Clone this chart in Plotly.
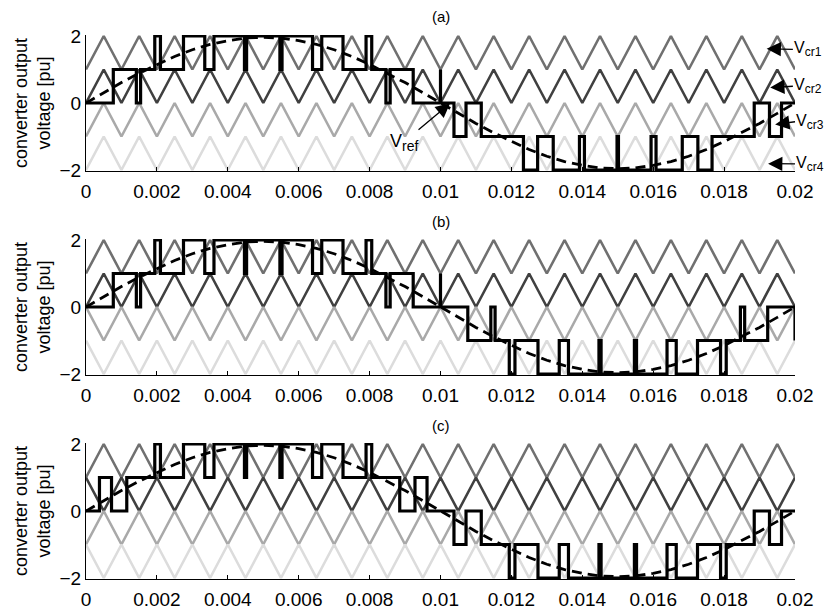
import plotly.graph_objects as go

# ---------------- data ----------------
# carrier vertex instants (s)
t_vertex = [0.0000, 0.0005, 0.0010, 0.0015, 0.0020, 0.0025, 0.0030, 0.0035, 0.0040, 0.0045,
            0.0050, 0.0055, 0.0060, 0.0065, 0.0070, 0.0075, 0.0080, 0.0085, 0.0090, 0.0095,
            0.0100, 0.0105, 0.0110, 0.0115, 0.0120, 0.0125, 0.0130, 0.0135, 0.0140, 0.0145,
            0.0150, 0.0155, 0.0160, 0.0165, 0.0170, 0.0175, 0.0180, 0.0185, 0.0190, 0.0195,
            0.0200]

# carrier vertex values
vcr1 = [1, 2, 1, 2, 1, 2, 1, 2, 1, 2, 1, 2, 1, 2, 1, 2, 1, 2, 1, 2, 1,
        2, 1, 2, 1, 2, 1, 2, 1, 2, 1, 2, 1, 2, 1, 2, 1, 2, 1, 2, 1]
vcr2_in = [0, 1, 0, 1, 0, 1, 0, 1, 0, 1, 0, 1, 0, 1, 0, 1, 0, 1, 0, 1, 0,
           1, 0, 1, 0, 1, 0, 1, 0, 1, 0, 1, 0, 1, 0, 1, 0, 1, 0, 1, 0]
vcr2_opp = [1, 0, 1, 0, 1, 0, 1, 0, 1, 0, 1, 0, 1, 0, 1, 0, 1, 0, 1, 0, 1,
            0, 1, 0, 1, 0, 1, 0, 1, 0, 1, 0, 1, 0, 1, 0, 1, 0, 1, 0, 1]
vcr3_in = [-1, 0, -1, 0, -1, 0, -1, 0, -1, 0, -1, 0, -1, 0, -1, 0, -1, 0, -1, 0, -1,
           0, -1, 0, -1, 0, -1, 0, -1, 0, -1, 0, -1, 0, -1, 0, -1, 0, -1, 0, -1]
vcr3_opp = [0, -1, 0, -1, 0, -1, 0, -1, 0, -1, 0, -1, 0, -1, 0, -1, 0, -1, 0, -1, 0,
            -1, 0, -1, 0, -1, 0, -1, 0, -1, 0, -1, 0, -1, 0, -1, 0, -1, 0, -1, 0]
vcr4_in = [-2, -1, -2, -1, -2, -1, -2, -1, -2, -1, -2, -1, -2, -1, -2, -1, -2, -1, -2, -1, -2,
           -1, -2, -1, -2, -1, -2, -1, -2, -1, -2, -1, -2, -1, -2, -1, -2, -1, -2, -1, -2]
vcr4_opp = [-1, -2, -1, -2, -1, -2, -1, -2, -1, -2, -1, -2, -1, -2, -1, -2, -1, -2, -1, -2, -1,
            -2, -1, -2, -1, -2, -1, -2, -1, -2, -1, -2, -1, -2, -1, -2, -1, -2, -1, -2, -1]

# reference voltage samples (pu) at the same instants
vref = [0.00, 0.31, 0.61, 0.89, 1.15, 1.39, 1.59, 1.75, 1.86, 1.94, 1.96, 1.94, 1.86, 1.75,
        1.59, 1.39, 1.15, 0.89, 0.61, 0.31, 0.00, -0.31, -0.61, -0.89, -1.15, -1.39, -1.59,
        -1.75, -1.86, -1.94, -1.96, -1.94, -1.86, -1.75, -1.59, -1.39, -1.15, -0.89, -0.61,
        -0.31, 0.00]

# converter output: switching instants (s) and level after each instant (pu)
out_a_t = [0.0, 0.00077, 0.00142, 0.00154, 0.00194, 0.00210, 0.00275, 0.00335, 0.00361, 0.00447,
           0.00453, 0.00547, 0.00553, 0.00639, 0.00665, 0.00725, 0.00790, 0.00806, 0.00846,
           0.00858, 0.00923, 0.01000, 0.01000, 0.01038, 0.01072, 0.01115, 0.01234, 0.01274,
           0.01318, 0.01392, 0.01406, 0.01498, 0.01502, 0.01594, 0.01608, 0.01682, 0.01726,
           0.01766, 0.01885, 0.01928, 0.01962, 0.02000]
out_a_v = [0, 1, 0, 1, 2, 1, 2, 1, 2, 1, 2, 1, 2, 1, 2, 1, 2, 1, 0, 1, 0, 1, 0, -1, 0, -1,
           -2, -1, -2, -1, -2, -1, -2, -1, -2, -1, -2, -1, 0, -1, 0, 0]

out_b_t = [0.0, 0.00077, 0.00142, 0.00154, 0.00194, 0.00210, 0.00275, 0.00335, 0.00361, 0.00447,
           0.00453, 0.00547, 0.00553, 0.00639, 0.00665, 0.00725, 0.00790, 0.00806, 0.00846,
           0.00858, 0.00923, 0.01000, 0.01000, 0.01077, 0.01142, 0.01154, 0.01194, 0.01210,
           0.01275, 0.01335, 0.01361, 0.01447, 0.01453, 0.01547, 0.01553, 0.01639, 0.01665,
           0.01725, 0.01790, 0.01806, 0.01846, 0.01858, 0.01923, 0.02000, 0.02000]
out_b_v = [0, 1, 0, 1, 2, 1, 2, 1, 2, 1, 2, 1, 2, 1, 2, 1, 2, 1, 0, 1, 0, 1, 0, -1, 0, -1,
           -2, -1, -2, -1, -2, -1, -2, -1, -2, -1, -2, -1, -2, -1, 0, -1, 0, 0, -1]

out_c_t = [0.0, 0.00038, 0.00072, 0.00115, 0.00194, 0.00210, 0.00275, 0.00335, 0.00361, 0.00447,
           0.00453, 0.00547, 0.00553, 0.00639, 0.00665, 0.00725, 0.00790, 0.00806, 0.00885,
           0.00928, 0.00962, 0.01038, 0.01072, 0.01115, 0.01194, 0.01210, 0.01275, 0.01335,
           0.01361, 0.01447, 0.01453, 0.01547, 0.01553, 0.01639, 0.01665, 0.01725, 0.01790,
           0.01806, 0.01885, 0.01928, 0.01962, 0.02000]
out_c_v = [0, 1, 0, 1, 2, 1, 2, 1, 2, 1, 2, 1, 2, 1, 2, 1, 2, 1, 0, 1, 0, -1, 0, -1, -2, -1,
           -2, -1, -2, -1, -2, -1, -2, -1, -2, -1, -2, -1, 0, -1, 0, 0]

panel_titles = ["(a)", "(b)", "(c)"]
x_tickvals = [0, 0.002, 0.004, 0.006, 0.008, 0.010, 0.012, 0.014, 0.016, 0.018, 0.020]
x_ticktext = ["0", "0.002", "0.004", "0.006", "0.008", "0.01", "0.012", "0.014", "0.016",
              "0.018", "0.02"]
y_tickvals = [-2, 0, 2]
y_ticktext = ["\u22122", "0", "2"]

# ---------------- styling ----------------
FONT = "Liberation Sans, Arial, Helvetica, sans-serif"
C1, C2, C3, C4 = "#707070", "#404040", "#a9a9a9", "#dcdcdc"
CW = 2.6

panels = [
    dict(carriers=[vcr1, vcr2_in, vcr3_in, vcr4_in], out_t=out_a_t, out_v=out_a_v, dom=[0.75, 1.0]),
    dict(carriers=[vcr1, vcr2_in, vcr3_opp, vcr4_opp], out_t=out_b_t, out_v=out_b_v, dom=[0.375, 0.625]),
    dict(carriers=[vcr1, vcr2_opp, vcr3_in, vcr4_opp], out_t=out_c_t, out_v=out_c_v, dom=[0.0, 0.25]),
]

fig = go.Figure()
layout = dict(
    width=830, height=609,
    margin=dict(l=86, r=35, t=35, b=30),
    paper_bgcolor="white", plot_bgcolor="white",
    showlegend=False,
    font=dict(family=FONT, size=16, color="black"),
)
annotations = []

for i, p in enumerate(panels):
    n = "" if i == 0 else str(i + 1)
    xa, ya = "x" + n, "y" + n
    for cv, col in zip(p["carriers"], [C1, C2, C3, C4]):
        fig.add_trace(go.Scatter(x=t_vertex, y=cv, mode="lines", xaxis=xa, yaxis=ya,
                                 line=dict(color=col, width=CW), hoverinfo="skip"))
    fig.add_trace(go.Scatter(x=p["out_t"], y=p["out_v"], mode="lines", xaxis=xa, yaxis=ya,
                             line=dict(color="black", width=3.2, shape="hv"), hoverinfo="skip"))
    fig.add_trace(go.Scatter(x=t_vertex, y=vref, mode="lines", xaxis=xa, yaxis=ya,
                             line=dict(color="black", width=2.8, dash="10px,6px"), hoverinfo="skip"))

    axx = dict(domain=[0, 1], anchor=ya, range=[0, 0.02], tickvals=x_tickvals, ticktext=x_ticktext,
               showline=True, linecolor="black", linewidth=1, ticks="inside", ticklen=4,
               tickcolor="black", showgrid=False, zeroline=False, ticklabelstandoff=3,
               automargin=False, tickfont=dict(family=FONT, size=19, color="black"))
    axy = dict(domain=p["dom"], anchor=xa, range=[-2.03, 2.03], tickvals=y_tickvals,
               ticktext=y_ticktext, showline=True, linecolor="black", linewidth=1,
               ticks="inside", ticklen=4, tickcolor="black", showgrid=False, zeroline=False,
               automargin=False, tickfont=dict(family=FONT, size=19, color="black"))
    layout["xaxis" + n] = axx
    layout["yaxis" + n] = axy

    top = p["dom"][1]
    mid = (p["dom"][0] + p["dom"][1]) / 2
    annotations.append(dict(x=0.5, y=top + 18 / 544, xref="paper", yref="paper", text=panel_titles[i],
                            showarrow=False, xanchor="center", yanchor="middle",
                            font=dict(family=FONT, size=15, color="black")))
    annotations.append(dict(x=-54 / 709, y=mid, xref="paper", yref="paper",
                            text="converter output<br>voltage [pu]", textangle=-90,
                            showarrow=False, xanchor="center", yanchor="middle",
                            font=dict(family=FONT, size=18, color="black")))

# labelled arrows in panel (a): (text, head x, head y, tail x, tail y, xanchor, yanchor, font size)
arrow_labels = [
    ("V<sub><span style='font-size:14px'>ref</span></sub>", 0.01027, -0.01, 0.00938, -0.80, "right", "top", 18),
    ("V<sub><span style='font-size:12px'>cr1</span></sub>", 0.01920, 1.62, 0.01994, 1.60, "left", "middle", 16),
    ("V<sub><span style='font-size:12px'>cr2</span></sub>", 0.01930, 0.46, 0.01994, 0.50, "left", "middle", 16),
    ("V<sub><span style='font-size:12px'>cr3</span></sub>", 0.01944, -0.64, 0.02000, -0.56, "left", "middle", 16),
    ("V<sub><span style='font-size:12px'>cr4</span></sub>", 0.01924, -1.81, 0.02000, -1.82, "left", "middle", 16),
]
for txt, hx, hy, tx, ty, xan, yan, fs in arrow_labels:
    annotations.append(dict(x=hx, y=hy, ax=tx, ay=ty, xref="x", yref="y", axref="x", ayref="y",
                            text=txt, showarrow=True, arrowhead=2, arrowsize=2.2, arrowwidth=1.3,
                            arrowcolor="black", xanchor=xan, yanchor=yan, borderpad=0,
                            font=dict(family=FONT, size=fs, color="black")))

layout["annotations"] = annotations
fig.update_layout(**layout)
fig.write_html("out.html")
